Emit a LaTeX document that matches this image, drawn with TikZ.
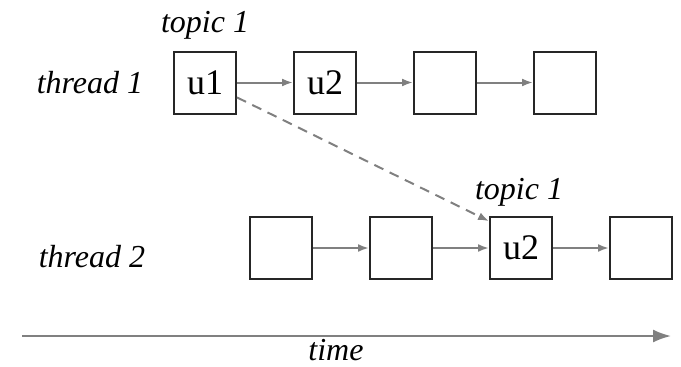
\documentclass[tikz,border=0pt]{standalone}
\usepackage{fontspec}
\setmainfont{Liberation Serif}
\usetikzlibrary{arrows.meta}
\begin{document}
\begin{tikzpicture}[x=1pt,y=-1pt,
 box/.style={draw=black!85, line width=2pt, minimum width=62pt, minimum height=62pt, inner sep=0pt, font=\fontsize{36}{42}\selectfont},
 lbl/.style={font=\fontsize{32}{38}\selectfont\itshape, inner sep=0pt, anchor=base},
 link/.style={draw=black!50, line width=2pt, -{Latex[length=11pt,width=8pt]}},
]
\useasboundingbox (0,0) rectangle (681,367);
\node[box] (a1) at (205,82.5) {u1};
\node[box] (a2) at (325,82.5) {u2};
\node[box] (a3) at (445,82.5) {};
\node[box] (a4) at (565,82.5) {};
\node[box] (b1) at (281,248) {};
\node[box] (b2) at (401,248) {};
\node[box] (b3) at (521,248) {u2};
\node[box] (b4) at (641,248) {};
\node[lbl] (t1) at (205,32) {topic 1};
\node[lbl] (t2) at (519,199) {topic 1};
\node[lbl] (th1) at (90,93) {thread 1};
\node[lbl] (th2) at (92,267) {thread 2};
\node[lbl] (tm) at (336,360) {time};
\draw[link] (a1) -- (a2);
\draw[link] (a2) -- (a3);
\draw[link] (a3) -- (a4);
\draw[link] (b1) -- (b2);
\draw[link] (b2) -- (b3);
\draw[link] (b3) -- (b4);
\draw[link, dashed, dash pattern=on 10pt off 7pt] (a1.-25) -- (b3.140);
\coordinate (ts) at (22,336);
\coordinate (te) at (671,336);
\draw[draw=black!50, line width=2pt, -{Latex[length=18pt,width=13pt]}] (ts) -- (te);
\end{tikzpicture}
\end{document}
